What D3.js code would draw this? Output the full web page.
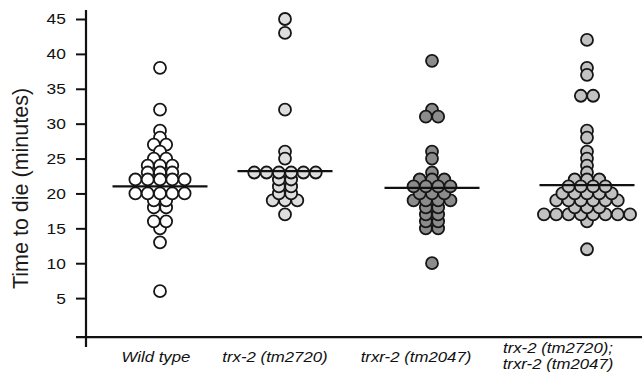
<!DOCTYPE html>
<html>
<head>
<meta charset="utf-8">
<script src="https://cdn.jsdelivr.net/npm/d3@7"></script>
<style>
  body { margin: 0; background: #fff; }
  svg { display: block; font-family: "Liberation Sans", Arial, sans-serif; }
</style>
</head>
<body>
<svg id="chart"></svg>
<script>
// groups on the x axis
const categories = ["wt", "trx2", "trxr2", "double"];
const labelLines = [
  ["Wild type"],
  ["trx-2 (tm2720)"],
  ["trxr-2 (tm2047)"],
  ["trx-2 (tm2720);", "trxr-2 (tm2047)"]
];

// time to die (minutes), one value per worm
const wildType = [38, 32, 29, 28, 27, 27, 26, 25, 25, 24, 24, 24, 23, 23, 23,
  22, 22, 22, 22, 22, 20, 20, 20, 20, 20, 19, 19, 18, 18, 16, 16, 15, 13, 6];
const trx2 = [45, 43, 32, 26, 25, 23, 23, 23, 23, 23, 23, 22, 22, 21, 21,
  20, 20, 19, 19, 19, 17];
const trxr2 = [39, 32, 31, 31, 26, 25, 23, 22, 22, 22, 21, 21, 21, 21,
  20, 20, 20, 19, 19, 19, 19, 18, 18, 17, 17, 16, 16, 15, 15, 10];
const doubleMutant = [42, 38, 37, 34, 34, 29, 28, 26, 25, 24, 23, 22, 22, 22,
  21, 21, 21, 21, 20, 20, 20, 20, 20, 19, 19, 19, 19, 19, 19, 18, 18, 18,
  17, 17, 17, 17, 17, 17, 17, 17, 16, 12];

// horizontal bars (group averages as drawn)
const means = [21, 23.2, 20.8, 21.2];
const fills = ["#ffffff", "#dedede", "#8c8c8c", "#c2c2c2"];
const yTicks = [5, 10, 15, 20, 25, 30, 35, 40, 45];

const groups = [wildType, trx2, trxr2, doubleMutant];

const W = 642, H = 390;
const svg = d3.select("#chart").attr("width", W).attr("height", H);

const y = d3.scaleLinear([0, 45], [333, 19]);
const xDot = d3.scaleOrdinal(categories, [160, 285, 432, 587]);
const xLab = d3.scaleOrdinal(categories, [156, 275, 416, 558]);
const axisX = 86;
const r = 6, spacing = 12.3, halfBar = 47.5;

// y axis
const yAxis = svg.append("g")
  .attr("transform", `translate(${axisX},0)`)
  .call(d3.axisLeft(y).tickValues(yTicks).tickSize(10).tickPadding(8));
yAxis.select(".domain").remove();
yAxis.selectAll(".tick line").attr("stroke", "#111").attr("stroke-width", 2);
yAxis.selectAll(".tick text")
  .attr("fill", "#111")
  .style("font-size", "15.5px")
  .attr("transform", "scale(1.12,1)");

svg.append("line")
  .attr("x1", axisX).attr("x2", axisX)
  .attr("y1", y(46.3)).attr("y2", y(-2))
  .attr("stroke", "#111").attr("stroke-width", 2.2);

// x axis
svg.append("line")
  .attr("x1", axisX - 10).attr("x2", W)
  .attr("y1", y(-0.6)).attr("y2", y(-0.6))
  .attr("stroke", "#111").attr("stroke-width", 2.2);

// y title
svg.append("text")
  .attr("transform", `translate(28,${(y(46.3) + y(-2)) / 2 + 10}) rotate(-90)`)
  .attr("text-anchor", "middle")
  .attr("fill", "#1a1a1a")
  .style("font-size", "21.5px")
  .text("Time to die (minutes)");

// dots: points sharing a value sit side by side
groups.forEach((vals, gi) => {
  const cat = categories[gi];
  const counts = d3.rollup(vals, v => v.length, d => d);
  const seen = new Map();
  const pts = vals.map(v => {
    const n = counts.get(v);
    const i = seen.get(v) || 0;
    seen.set(v, i + 1);
    return { v, off: (i - (n - 1) / 2) * spacing };
  });
  // closest to the bar drawn last
  pts.sort((a, b) => Math.abs(b.v - means[gi]) - Math.abs(a.v - means[gi]));

  svg.append("g").selectAll("circle")
    .data(pts)
    .enter().append("circle")
      .attr("cx", d => xDot(cat) + d.off)
      .attr("cy", d => y(d.v))
      .attr("r", r)
      .attr("fill", fills[gi])
      .attr("stroke", "#161616")
      .attr("stroke-width", 1.8);

  svg.append("line")
    .attr("x1", xDot(cat) - halfBar).attr("x2", xDot(cat) + halfBar)
    .attr("y1", y(means[gi])).attr("y2", y(means[gi]))
    .attr("stroke", "#111").attr("stroke-width", 2.2);
});

// category labels
categories.forEach((cat, i) => {
  const lines = labelLines[i];
  const base = lines.length > 1 ? 352.5 : 361.5;
  const t = svg.append("text")
    .attr("transform", `translate(${xLab(cat)},${base}) scale(1.12,1)`)
    .attr("text-anchor", "middle")
    .attr("fill", "#111")
    .style("font-size", "15px")
    .style("font-style", "italic");
  lines.forEach((ln, j) => {
    t.append("tspan").attr("x", 0).attr("dy", j ? 16.5 : 0).text(ln);
  });
});
</script>
</body>
</html>
